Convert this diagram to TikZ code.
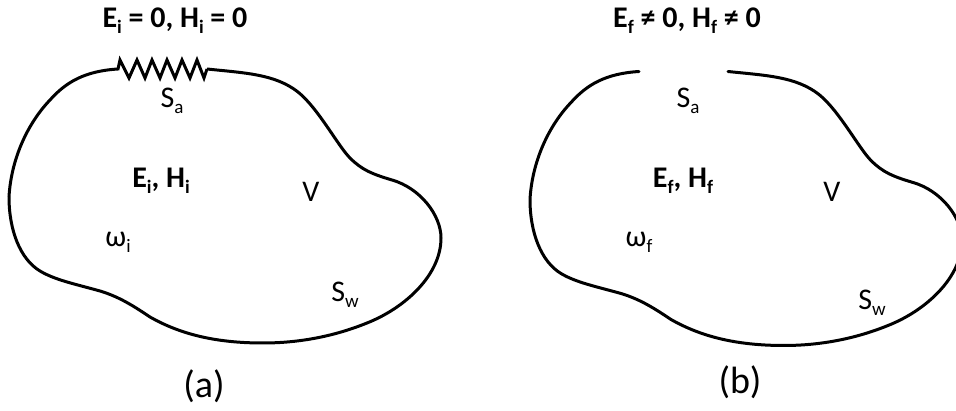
\documentclass[tikz,border=0pt]{standalone}
\usepackage{fontspec}
\setmainfont{Carlito}
\usepackage{tikz}
\newcommand{\subtxt}[1]{\raisebox{-0.2em}{\fontsize{19}{19}\selectfont #1}}
\newcommand{\cavitypath}{(207,69) .. controls (245,73) and (275,74) .. (298,92)
    .. controls (318,108) and (338,146) .. (350,158)
    .. controls (362,170) and (372,174) .. (392,180)
    .. controls (420,188) and (441,215) .. (441,238)
    .. controls (441,275) and (405,308) .. (367,323)
    .. controls (335,336) and (300,343) .. (263,343)
    .. controls (215,343) and (180,334) .. (150,317)
    .. controls (135,307) and (120,297) .. (100,291)
    .. controls (75,284) and (55,280) .. (40,271)
    .. controls (20,259) and (9,230) .. (9,197)
    .. controls (11,160) and (27,124) .. (50,100)
    .. controls (66,82) and (85,71) .. (118,69)}

\begin{document}
\begin{tikzpicture}[
      x=1pt,y=-1pt,
      wall/.style={draw=black,line width=3pt,line join=miter},
      lab/.style={anchor=base,inner sep=0pt,font=\fontsize{30}{36}\selectfont},
      tag/.style={anchor=base,inner sep=0pt,font=\fontsize{30}{36}\selectfont\bfseries},
      capt/.style={anchor=base,inner sep=0pt,font=\fontsize{38}{46}\selectfont}]
    \useasboundingbox (0,0) rectangle (956,411);
    % cavity with the absorber
    \draw[wall] \cavitypath
      -- (120,60) -- (129,78) -- (137,60) -- (145,78) -- (152,60) -- (160,78)
      -- (167,60) -- (175,78) -- (182,60) -- (190,78) -- (197,60) -- (204,78) -- (207,69);
    % cavity with the open aperture
    \draw[wall,line cap=round,shift={(521,2.5)}] \cavitypath;
    % left labels
    \node[tag] (titlea) at (175,28) {E\subtxt{i} = 0, H\subtxt{i} = 0};
    \node[lab] (sa) at (172,108) {S\subtxt{a}};
    \node[tag] (fielda) at (161,188) {E\subtxt{i}, H\subtxt{i}};
    \node[lab] (va) at (311,202) {V};
    \node[lab] (wa) at (118,247) {ω\subtxt{i}};
    \node[lab] (swa) at (345,302) {S\subtxt{w}};
    \node[capt] (capa) at (204,398) {(a)};
    % right labels
    \node[tag] (titleb) at (687,28) {E\subtxt{f} ≠ 0, H\subtxt{f} ≠ 0};
    \node[lab] (sb) at (688,108) {S\subtxt{a}};
    \node[tag] (fieldb) at (683,188) {E\subtxt{f}, H\subtxt{f}};
    \node[lab] (vb) at (832,202) {V};
    \node[lab] (wb) at (639,247) {ω\subtxt{f}};
    \node[lab] (swb) at (872,310) {S\subtxt{w}};
    \node[capt] (capb) at (740,394) {(b)};
\end{tikzpicture}
\end{document}
